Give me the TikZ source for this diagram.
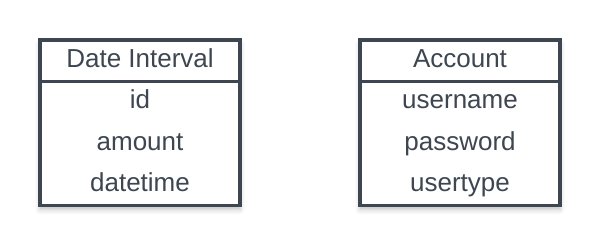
\documentclass[tikz,border=0pt]{standalone}
\usepackage{fontspec}
\setmainfont{Liberation Sans}
\usetikzlibrary{shadows.blur}
\definecolor{ink}{HTML}{3D4651}
\begin{document}
\begin{tikzpicture}[x=1pt,y=-1pt,
  tablebox/.style={draw=ink, line width=3.6pt, fill=white,
    blur shadow={shadow xshift=0pt, shadow yshift=-4pt, shadow blur radius=5pt, shadow opacity=25}},
  rule/.style={draw=ink, line width=3.6pt},
  cell/.style={text=ink, font=\fontsize{26}{30}\selectfont, anchor=base, inner sep=0pt}]
  \useasboundingbox (0,0) rectangle (600,248);
  % Date Interval table
  \path[tablebox] (40,40) rectangle (240,205.5);
  \coordinate (dl) at (40,81.5);
  \coordinate (dr) at (240,81.5);
  \draw[rule] (dl) -- (dr);
  \node[cell] (dtitle) at (140,67.5) {Date Interval};
  \node[cell] (did) at (140,108.5) {id};
  \node[cell] (damount) at (140,150.5) {amount};
  \node[cell] (ddatetime) at (140,192) {datetime};
  % Account table
  \path[tablebox] (360,40) rectangle (560,205.5);
  \coordinate (al) at (360,81.5);
  \coordinate (ar) at (560,81.5);
  \draw[rule] (al) -- (ar);
  \node[cell] (atitle) at (460,67.5) {Account};
  \node[cell] (auser) at (460,108.5) {username};
  \node[cell] (apass) at (460,150.5) {password};
  \node[cell] (atype) at (460,192) {usertype};
\end{tikzpicture}
\end{document}
